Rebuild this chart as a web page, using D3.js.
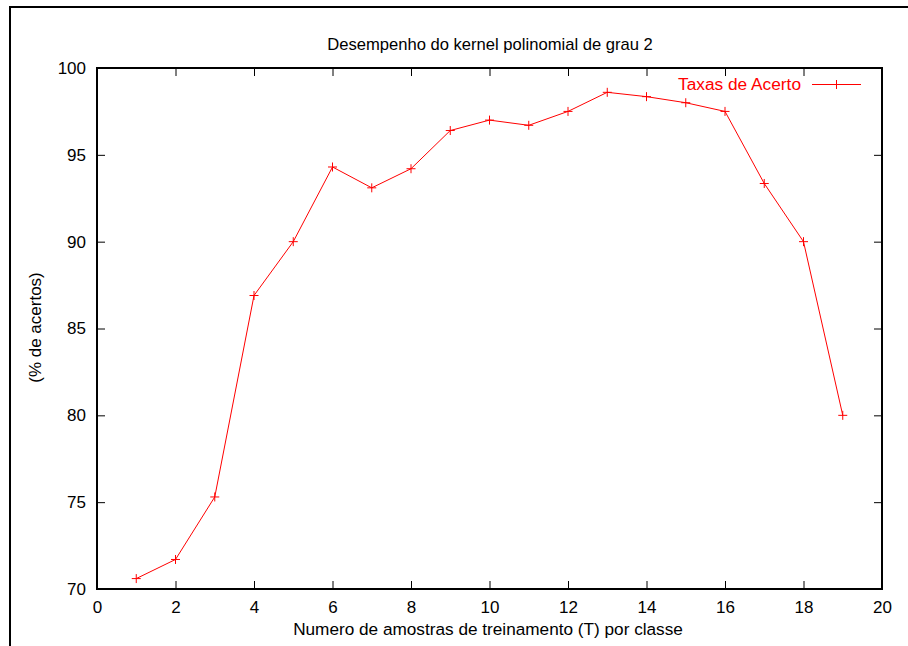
<!DOCTYPE html>
<html>
<head>
<meta charset="utf-8">
<script src="https://cdn.jsdelivr.net/npm/d3@7"></script>
<style>
  body { margin: 0; background: #fff; }
  svg { display: block; }
  text { font-family: "Liberation Sans", Arial, sans-serif; }
</style>
</head>
<body>
<div class="chart"></div>
<script>
// data
const amostras = [1, 2, 3, 4, 5, 6, 7, 8, 9, 10, 11, 12, 13, 14, 15, 16, 17, 18, 19]
const acertos = [70.6, 71.7, 75.3, 86.9, 90.0, 94.3, 93.1, 94.2, 96.4, 97.0, 96.7, 97.5, 98.6, 98.35, 98.0, 97.5, 93.35, 90.0, 80.0]
const xTicks = [0, 2, 4, 6, 8, 10, 12, 14, 16, 18, 20]
const yTicks = [70, 75, 80, 85, 90, 95, 100]
const titulo = "Desempenho do kernel polinomial de grau 2"
const xLabel = "Numero de amostras de treinamento (T) por classe"
const yLabel = "(% de acertos)"
const serieNome = "Taxas de Acerto"

const width = 908
const height = 646
const plot = { left: 97, right: 882, top: 68, bottom: 589 }

const svg = d3.select(".chart")
  .append("svg")
  .attr("width", width)
  .attr("height", height)

// outer frame (only left and top show)
svg.append("path")
  .attr("d", `M10,${height} V7 H${width}`)
  .attr("fill", "none")
  .attr("stroke", "#000")
  .attr("stroke-width", 2)

const x = d3.scaleLinear().domain([0, 20]).range([plot.left, plot.right])
const y = d3.scaleLinear().domain([70, 100]).range([plot.bottom, plot.top])

const tickLen = 8

// bottom / top axes
const xAxis = svg.append("g")
  .attr("transform", `translate(0,${plot.bottom})`)
  .call(d3.axisBottom(x).tickValues(xTicks).tickSize(-tickLen).tickPadding(12))
xAxis.select(".domain").remove()
svg.append("g")
  .attr("transform", `translate(0,${plot.top})`)
  .call(d3.axisTop(x).tickValues(xTicks).tickSize(-tickLen).tickFormat(""))
  .select(".domain").remove()

// left / right axes
const yAxis = svg.append("g")
  .attr("transform", `translate(${plot.left},0)`)
  .call(d3.axisLeft(y).tickValues(yTicks).tickSize(-tickLen).tickPadding(11))
yAxis.select(".domain").remove()
svg.append("g")
  .attr("transform", `translate(${plot.right},0)`)
  .call(d3.axisRight(y).tickValues(yTicks).tickSize(-tickLen).tickFormat(""))
  .select(".domain").remove()

svg.selectAll(".tick line").attr("stroke", "#000").attr("stroke-width", 1)
svg.selectAll(".tick text")
  .attr("fill", "#000")
  .style("font-size", "17px")
  .style("font-family", "'Liberation Sans', Arial, sans-serif")

// plot border
svg.append("rect")
  .attr("x", plot.left)
  .attr("y", plot.top)
  .attr("width", plot.right - plot.left)
  .attr("height", plot.bottom - plot.top)
  .attr("fill", "none")
  .attr("stroke", "#000")
  .attr("stroke-width", 2)

// series line
const pts = amostras.map((a, i) => [a, acertos[i]])
const line = d3.line().x(d => x(d[0])).y(d => y(d[1]))

svg.append("path")
  .datum(pts)
  .attr("d", line)
  .attr("fill", "none")
  .attr("stroke", "#ff0000")
  .attr("stroke-width", 1)

const plus = (cx, cy, s) => `M${cx - s},${cy} H${cx + s} M${cx},${cy - s} V${cy + s}`

svg.append("g")
  .selectAll("path")
  .data(pts)
  .enter()
  .append("path")
    .attr("d", d => plus(x(d[0]), y(d[1]), 4.5))
    .attr("stroke", "#ff0000")
    .attr("stroke-width", 1)
    .attr("fill", "none")

// legend
svg.append("text")
  .attr("x", 801)
  .attr("y", 90)
  .attr("text-anchor", "end")
  .attr("fill", "#ff0000")
  .style("font-size", "17.3px")
  .text(serieNome)
svg.append("line")
  .attr("x1", 812).attr("x2", 861)
  .attr("y1", 84.5).attr("y2", 84.5)
  .attr("stroke", "#ff0000")
svg.append("path")
  .attr("d", plus(836.5, 84.5, 4.5))
  .attr("stroke", "#ff0000")

// titles
svg.append("text")
  .attr("x", 490)
  .attr("y", 50)
  .attr("text-anchor", "middle")
  .style("font-size", "16.6px")
  .text(titulo)

svg.append("text")
  .attr("x", 488)
  .attr("y", 635)
  .attr("text-anchor", "middle")
  .style("font-size", "17.2px")
  .text(xLabel)

svg.append("text")
  .attr("transform", `translate(41,${(272 + 383) / 2}) rotate(-90)`)
  .attr("text-anchor", "middle")
  .style("font-size", "17px")
  .text(yLabel)
</script>
</body>
</html>
